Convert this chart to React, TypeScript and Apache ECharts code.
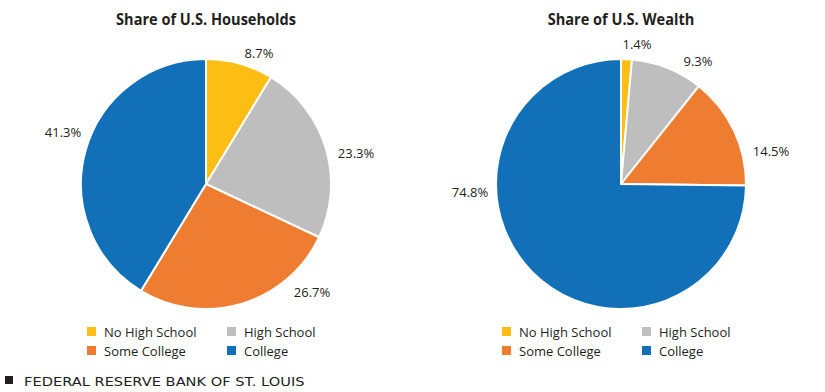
import React, { useEffect, useRef } from "react";
import * as echarts from "echarts";

const categories = ["No High School", "High School", "Some College", "College"];
const colors = ["#FDBE13", "#BFBEBE", "#EF7D31", "#1170B8"];
const householdShares = [8.7, 23.3, 26.7, 41.3];
const wealthShares = [1.4, 9.3, 14.5, 74.8];
const titles = ["Share of U.S. Households", "Share of U.S. Wealth"];
const footer = "FEDERAL RESERVE BANK OF ST. LOUIS";

// label anchor positions (layout, not data)
const labelPositions = [
  [[259, 53], [356, 153], [312, 292], [63, 132]],
  [[637, 44], [698, 61], [771, 151], [470, 192]],
];
const pieCenters = [206, 621];

const FONT = "'Open Sans', 'Noto Sans', sans-serif";

export default function App() {
  const ref = useRef<HTMLDivElement>(null);
  useEffect(() => {
    document.body.style.margin = "0";
    if (!ref.current) return;
    const chart = echarts.init(ref.current, null, { renderer: "svg" });
    const makeSeries = (vals: number[], cx: number) => ({
      type: "pie",
      center: [cx, 184],
      radius: [0, 125],
      startAngle: 90,
      clockwise: true,
      avoidLabelOverlap: false,
      itemStyle: { borderColor: "#fff", borderWidth: 2 },
      label: {
        show: true,
        position: "outside",
        formatter: (p: any) => p.value.toFixed(1) + "%",
        color: "#231F20",
        fontSize: 13,
        fontFamily: FONT,
      },
      labelLine: { show: false },
      labelLayout: (p: any) => {
        const pos = labelPositions[p.seriesIndex][p.dataIndex];
        return { x: pos[0], y: pos[1], align: "center", verticalAlign: "middle" };
      },
      emphasis: { disabled: true },
      data: vals.map((v, i) => ({ name: categories[i], value: v, itemStyle: { color: colors[i] } })),
    });
    const legendBase = {
      orient: "vertical",
      icon: "rect",
      itemWidth: 11,
      itemHeight: 11,
      itemGap: 6,
      top: 320,
      textStyle: { color: "#231F20", fontSize: 13, fontFamily: FONT, padding: [0, 0, 0, 2] },
      selectedMode: false,
    };
    const legends: any[] = [];
    pieCenters.forEach((cx) => {
      legends.push({ ...legendBase, left: cx - 126, data: [categories[0], categories[2]] });
      legends.push({ ...legendBase, left: cx + 14, data: [categories[1], categories[3]] });
    });
    const titleGraphic = (text: string, cx: number) => ({
      type: "text",
      x: cx,
      y: 19,
      scaleX: 0.91,
      style: {
        text,
        fill: "#231F20",
        fontSize: 16,
        fontWeight: "bold",
        fontFamily: FONT,
        align: "center",
        verticalAlign: "middle",
      },
    });
    chart.setOption({
      animation: false,
      legend: legends,
      series: [makeSeries(householdShares, pieCenters[0]), makeSeries(wealthShares, pieCenters[1])],
      graphic: [
        titleGraphic(titles[0], pieCenters[0]),
        titleGraphic(titles[1], pieCenters[1]),
        { type: "rect", shape: { x: 5, y: 376, width: 8, height: 8 }, style: { fill: "#231F20" } },
        {
          type: "text",
          x: 24,
          y: 381,
          scaleX: 1.17,
          style: { text: footer, fill: "#231F20", fontSize: 12.5, fontFamily: "'DejaVu Sans', sans-serif", verticalAlign: "middle" },
        },
      ],
    });
    return () => chart.dispose();
  }, []);
  return <div ref={ref} style={{ width: 825, height: 392 }} />;
}
